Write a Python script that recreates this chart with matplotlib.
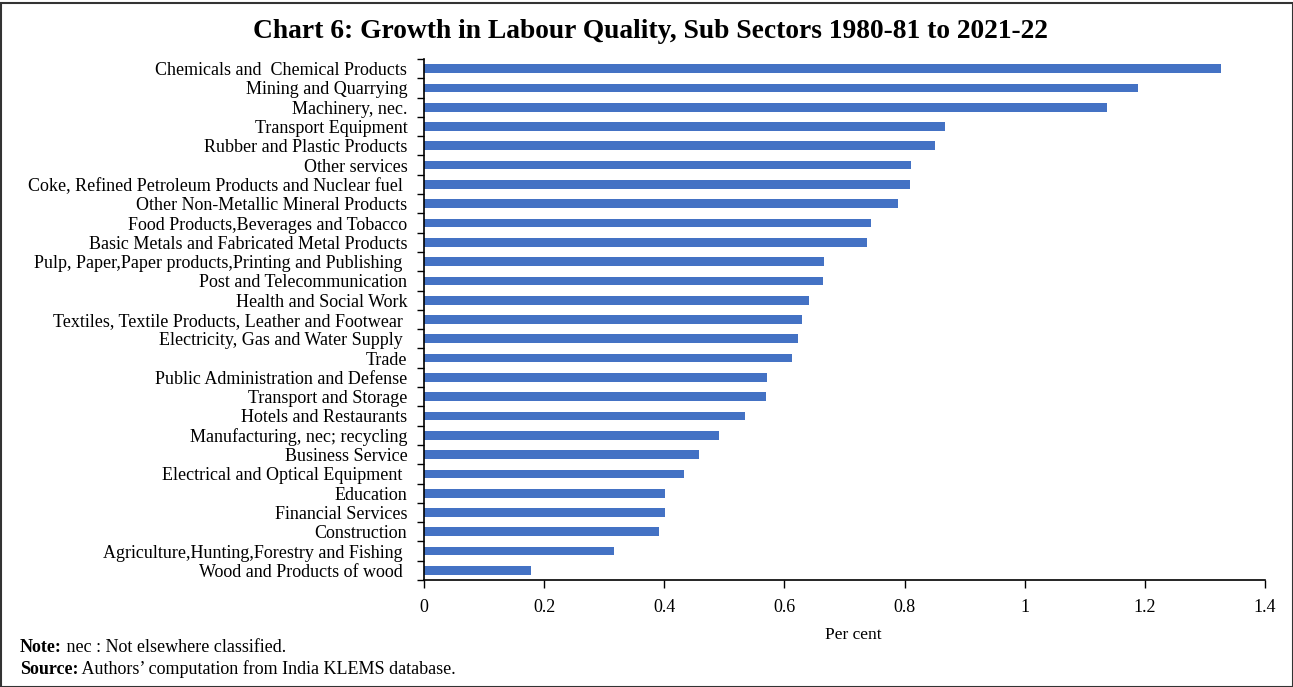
import matplotlib

matplotlib.use("Agg")
import matplotlib.pyplot as plt
import numpy as np
from matplotlib.patches import Rectangle

sectors = [
    "Chemicals and  Chemical Products",
    "Mining and Quarrying",
    "Machinery, nec.",
    "Transport Equipment",
    "Rubber and Plastic Products",
    "Other services",
    "Coke, Refined Petroleum Products and Nuclear fuel ",
    "Other Non-Metallic Mineral Products",
    "Food Products,Beverages and Tobacco",
    "Basic Metals and Fabricated Metal Products",
    "Pulp, Paper,Paper products,Printing and Publishing ",
    "Post and Telecommunication",
    "Health and Social Work",
    "Textiles, Textile Products, Leather and Footwear ",
    "Electricity, Gas and Water Supply ",
    "Trade",
    "Public Administration and Defense",
    "Transport and Storage",
    "Hotels and Restaurants",
    "Manufacturing, nec; recycling",
    "Business Service",
    "Electrical and Optical Equipment ",
    "Education",
    "Financial Services",
    "Construction",
    "Agriculture,Hunting,Forestry and Fishing ",
    "Wood and Products of wood ",
]
growth = [
    1.327, 1.189, 1.137, 0.868, 0.850, 0.810, 0.809, 0.789, 0.744,
    0.737, 0.666, 0.664, 0.641, 0.629, 0.623, 0.613, 0.571, 0.570,
    0.534, 0.491, 0.457, 0.433, 0.402, 0.401, 0.392, 0.317, 0.178,
]
x_ticks = [0, 0.2, 0.4, 0.6, 0.8, 1, 1.2, 1.4]
x_tick_labels = ["0", "0.2", "0.4", "0.6", "0.8", "1", "1.2", "1.4"]

plt.rcParams["font.family"] = ["Liberation Serif", "DejaVu Serif"]

W, H = 1293, 687
fig = plt.figure(figsize=(W / 100, H / 100), dpi=100)
ax = fig.add_axes([424 / W, 1 - 580 / H, (1265 - 424) / W, (580 - 59) / H])

y = np.arange(len(sectors))
ax.barh(y, growth, height=0.45, color="#4472C4", zorder=2)
ax.set_ylim(len(sectors) - 0.5, -0.5)
ax.set_xlim(0, 1.4)

ax.set_yticks(y)
ax.set_yticklabels(sectors, fontsize=13)
ax.set_yticks(np.arange(len(sectors) + 1) - 0.5, minor=True)
ax.tick_params(axis="y", which="major", length=0, pad=12)
ax.tick_params(axis="y", which="minor", length=5, width=1, direction="out")

ax.set_xticks(x_ticks)
ax.set_xticklabels(x_tick_labels, fontsize=13)
ax.tick_params(axis="x", length=6, width=1, direction="out", pad=8)

for side in ["top", "right"]:
    ax.spines[side].set_visible(False)
for side in ["left", "bottom"]:
    ax.spines[side].set_linewidth(1.2)
    ax.spines[side].set_color("black")

fig.text(650 / W, 1 - 32 / H, "Chart 6: Growth in Labour Quality, Sub Sectors 1980-81 to 2021-22",
         ha="center", va="center", fontsize=19.8, fontweight="bold")
fig.text(853 / W, 1 - 635 / H, "Per cent", ha="center", va="center", fontsize=12.5)

note = fig.text(20 / W, 1 - 647 / H, "Note:", ha="left", va="center", fontsize=13, fontweight="bold")
ax.annotate(" nec : Not elsewhere classified.", xy=(1, 0.5), xycoords=note,
            ha="left", va="center", fontsize=13)
source = fig.text(20 / W, 1 - 669 / H, "Source:", ha="left", va="center", fontsize=13, fontweight="bold")
ax.annotate(" Authors\u2019 computation from India KLEMS database.", xy=(1, 0.5), xycoords=source,
            ha="left", va="center", fontsize=13)

fig.patches.append(Rectangle((0.5 / W, 0), 1 - 1 / W, 1 - 3 / H, transform=fig.transFigure,
                             fill=False, edgecolor="#333333", linewidth=1.5))

fig.savefig("out.png", dpi=100)
plt.close(fig)
